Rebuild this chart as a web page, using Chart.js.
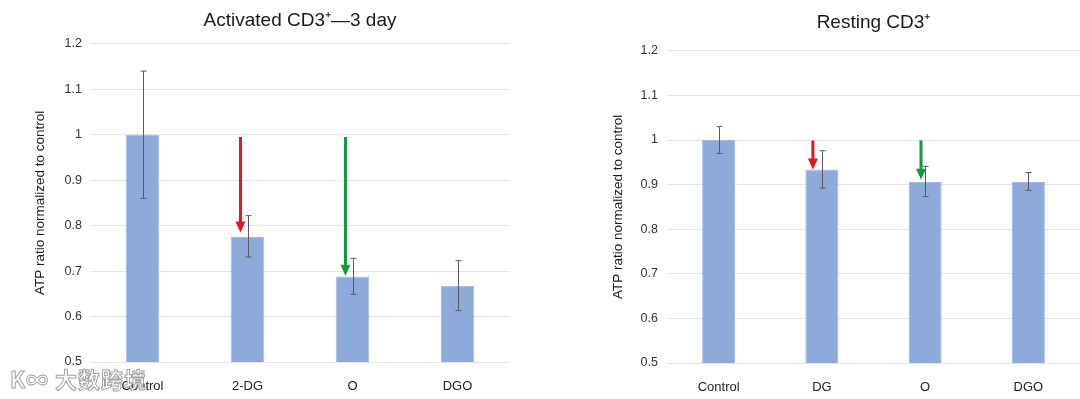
<!DOCTYPE html>
<html lang="en">
<head>
<meta charset="UTF-8" />
<title>ATP ratio</title>
<script src="https://cdn.jsdelivr.net/npm/chart.js"></script>
<style>
  body { margin: 0; background: #fff; width: 1080px; height: 399px; position: relative; overflow: hidden; }
  .box { position: absolute; top: 0; height: 399px; }
  #leftBox { left: 0; width: 530px; }
  #rightBox { left: 590px; width: 490px; }
  .wm {
    position: absolute; left: 10px; top: 362px;
    font-family: "Noto Sans CJK SC", sans-serif; font-size: 22px; font-weight: bold;
    color: rgba(255,255,255,0.85); -webkit-text-stroke: 1px rgba(120,120,120,0.7);
    letter-spacing: 1px;
  }
</style>
</head>
<body>
<div class="box" id="leftBox"><canvas id="leftChart" width="530" height="399"></canvas></div>
<div class="box" id="rightBox"><canvas id="rightChart" width="490" height="399"></canvas></div>
<div class="wm">K∞ 大数跨境</div>
<script>
// left panel: activated cells
const leftLabels = ["Control", "2-DG", "O", "DGO"];
const leftValues = [1.0, 0.775, 0.688, 0.668];
const leftErrHigh = [1.14, 0.822, 0.728, 0.723];
const leftErrLow = [0.86, 0.731, 0.649, 0.613];
const leftArrowPos = [0.933, 1.933];
const leftArrowFrom = [0.995, 0.995];
const leftArrowTo = [0.785, 0.69];

// right panel: resting cells
const rightLabels = ["Control", "DG", "O", "DGO"];
const rightValues = [1.0, 0.934, 0.906, 0.906];
const rightErrHigh = [1.03, 0.976, 0.941, 0.927];
const rightErrLow = [0.97, 0.892, 0.873, 0.887];
const rightArrowPos = [0.913, 1.96];
const rightArrowFrom = [0.999, 0.999];
const rightArrowTo = [0.934, 0.911];

const arrowColors = ["#e8161c", "#0f9a3e"];
const yTicks = [0.5, 0.6, 0.7, 0.8, 0.9, 1, 1.1, 1.2];
const FONT = "'Liberation Sans', Arial, sans-serif";

// draws error bars and the coloured arrows on top of the bars
const extrasPlugin = {
  id: "extras",
  afterDatasetsDraw(chart, args, opts) {
    const ctx = chart.ctx;
    const x = chart.scales.x, y = chart.scales.y;
    ctx.save();
    ctx.strokeStyle = "#5a5a5a";
    ctx.lineWidth = 1;
    opts.high.forEach((hi, i) => {
      const px = Math.round(x.getPixelForValue(i)) + 0.5;
      const top = y.getPixelForValue(hi), bot = y.getPixelForValue(opts.low[i]);
      ctx.beginPath();
      ctx.moveTo(px, top); ctx.lineTo(px, bot);
      ctx.moveTo(px - 3, top); ctx.lineTo(px + 3, top);
      ctx.moveTo(px - 3, bot); ctx.lineTo(px + 3, bot);
      ctx.stroke();
    });
    opts.arrowPos.forEach((pos, i) => {
      const px = x.getPixelForValue(pos);
      const y0 = y.getPixelForValue(opts.arrowFrom[i]);
      const y1 = y.getPixelForValue(opts.arrowTo[i]);
      ctx.strokeStyle = arrowColors[i];
      ctx.fillStyle = arrowColors[i];
      ctx.lineWidth = 3;
      ctx.beginPath();
      ctx.moveTo(px, y0); ctx.lineTo(px, y1 - 9);
      ctx.stroke();
      ctx.beginPath();
      ctx.moveTo(px - 5, y1 - 11);
      ctx.lineTo(px + 5, y1 - 11);
      ctx.lineTo(px, y1);
      ctx.closePath();
      ctx.fill();
    });
    ctx.restore();
  }
};

function makeChart(id, labels, values, high, low, arrowPos, arrowFrom, arrowTo, title, cfg) {
  return new Chart(document.getElementById(id), {
    type: "bar",
    data: {
      labels: labels,
      datasets: [{
        data: values,
        backgroundColor: "#8eaadb",
        borderColor: "#9fb7e2",
        borderWidth: 1,
        barPercentage: cfg.barPct,
        categoryPercentage: 1.0
      }]
    },
    options: {
      responsive: false,
      animation: false,
      layout: { padding: { left: 0, right: cfg.padRight, top: 0, bottom: 0 } },
      plugins: {
        legend: { display: false },
        tooltip: { enabled: false },
        title: {
          display: true,
          fullSize: false,
          text: title,
          color: "#1a1a1a",
          font: { family: FONT, size: 19, weight: "normal" },
          padding: { top: cfg.titleTop, bottom: cfg.titleBottom }
        },
        extras: { high, low, arrowPos, arrowFrom, arrowTo }
      },
      scales: {
        x: {
          grid: { display: false },
          border: { display: false },
          ticks: { color: "#222", font: { family: FONT, size: 13 }, padding: 9 },
          afterFit(s) { s.height = cfg.xHeight; }
        },
        y: {
          min: 0.5,
          max: 1.2,
          afterBuildTicks(s) { s.ticks = yTicks.map(v => ({ value: v })); },
          grid: { color: "#e6e6e6", drawTicks: false },
          border: { display: false },
          ticks: {
            color: "#333",
            font: { family: FONT, size: 12.5 },
            padding: cfg.tickPad,
            callback: v => String(Math.round(v * 10) / 10)
          },
          title: {
            display: true,
            text: "ATP ratio normalized to control",
            color: "#1a1a1a",
            font: { family: FONT, size: 13.5 },
            padding: { top: cfg.yTitlePad, bottom: 0 }
          },
          afterFit(s) { s.width = cfg.yWidth; }
        }
      }
    },
    plugins: [extrasPlugin]
  });
}

makeChart("leftChart", leftLabels, leftValues, leftErrHigh, leftErrLow,
  leftArrowPos, leftArrowFrom, leftArrowTo, "Activated CD3\u207A\u20143 day",
  { barPct: 0.32, padRight: 20, titleTop: 9, titleBottom: 12, xHeight: 37, yWidth: 90, tickPad: 8, yTitlePad: 32 });

makeChart("rightChart", rightLabels, rightValues, rightErrHigh, rightErrLow,
  rightArrowPos, rightArrowFrom, rightArrowTo, "Resting CD3\u207A",
  { barPct: 0.32, padRight: 0, titleTop: 11, titleBottom: 17, xHeight: 36, yWidth: 77, tickPad: 9, yTitlePad: 20 });
</script>
</body>
</html>
